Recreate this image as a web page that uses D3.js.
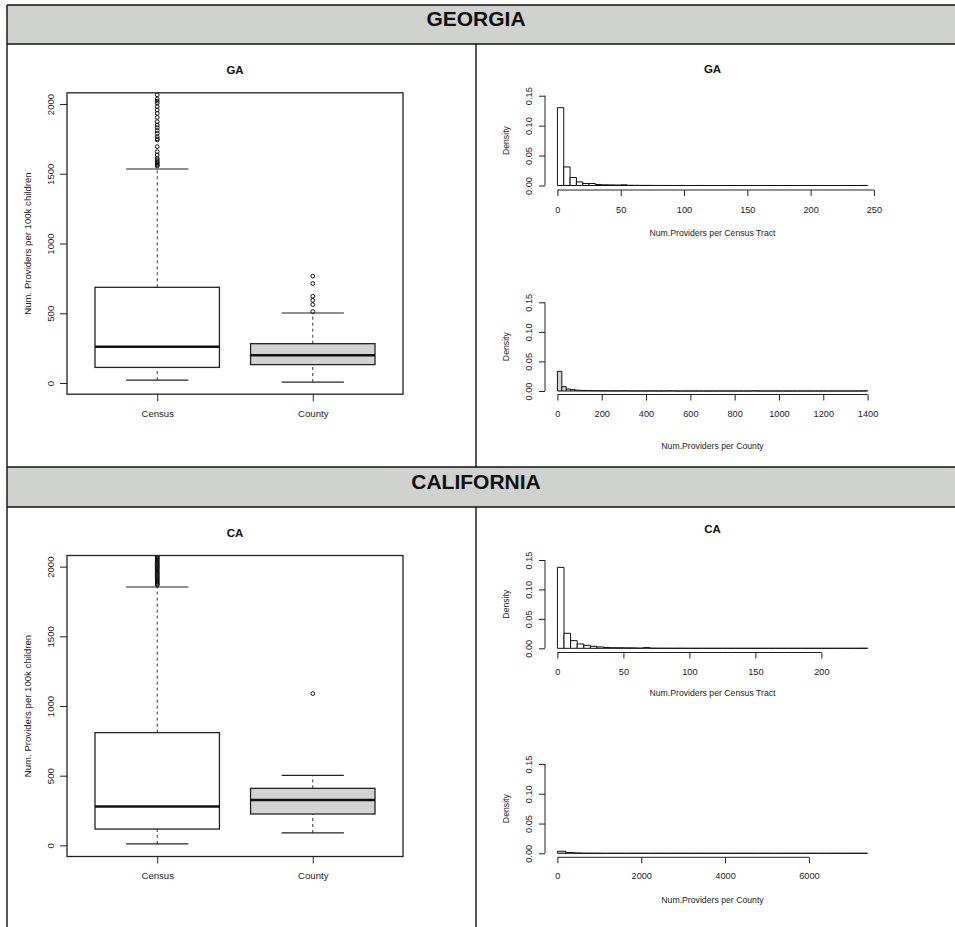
<!DOCTYPE html>
<html>
<head>
<meta charset="utf-8">
<script src="https://cdn.jsdelivr.net/npm/d3@7"></script>
<style>
  body { margin: 0; background: #fff; }
  svg { display: block; font-family: "Liberation Sans", Arial, sans-serif; }
</style>
</head>
<body>
<script>
const width = 955;
const height = 927;

// ---- data ----
const stateNames = ["GEORGIA", "CALIFORNIA"];
const stateCodes = ["GA", "CA"];
const boxCategories = ["Census", "County"];
const boxTicks = [0, 500, 1000, 1500, 2000];

// [lower whisker, Q1, median, Q3, upper whisker]
const gaCensusStats = [21, 112, 260, 686, 1534];
const gaCountyStats = [7, 132, 199, 282, 502];
const caCensusStats = [10, 117, 278, 809, 1854];
const caCountyStats = [89, 225, 325, 409, 502];

const gaCensusOutliers = [1555, 1562, 1569, 1578, 1586, 1598, 1610, 1634, 1658, 1694, 1742, 1750, 1766, 1789, 1809, 1830, 1849, 1873, 1904, 1933, 1957, 1981, 2005, 2020, 2036, 2065];
const gaCountyOutliers = [512, 562, 593, 622, 713, 766];
const caCensusOutliers = [1868, 1875, 1882, 1890, 1897, 1905, 1912, 1920, 1928, 1936, 1945, 1953, 1960, 1968, 1977, 1985, 1992, 2000, 2008, 2015, 2023, 2031, 2040, 2048, 2056, 2064, 2072, 2080, 2095, 2120];
const caCountyOutliers = [1089];

const densityTicks = [0, 0.05, 0.1, 0.15];

// densities per bin, bins start at 0
const gaTractBinWidth = 5;
const gaTractDensity = [
  0.130, 0.031, 0.0134, 0.006, 0.0033, 0.0033, 0.0017, 0.0012, 0.001, 0.0008, 0.0012,
  0.0004, 0.0003, 0.0002, 0.0002, 0.0001, 0.0001, 0.0001, 0, 0.0001, 0,
  0, 0.0001, 0, 0, 0, 0, 0, 0, 0, 0,
  0, 0, 0, 0, 0, 0, 0, 0, 0, 0,
  0, 0, 0, 0, 0, 0, 0, 0.0001
];
const gaTractTicks = [0, 50, 100, 150, 200, 250];

const gaCountyBinWidth = 20;
const gaCountyDensity = [
  0.0333, 0.0073, 0.0034, 0.0022, 0.0015, 0.001, 0.0008, 0.0006, 0.0005, 0.0004,
  0.0003, 0.0002, 0.0002, 0.0001, 0.0002, 0.0003, 0.0001, 0.0001, 0.0001, 0.0001,
  0.0001, 0.0002, 0.0001, 0, 0.0001, 0.0003, 0.0002, 0, 0, 0,
  0, 0, 0, 0, 0, 0, 0, 0, 0, 0,
  0, 0, 0, 0, 0.0003, 0, 0, 0, 0, 0,
  0, 0, 0, 0, 0, 0, 0, 0, 0, 0,
  0, 0, 0, 0, 0, 0, 0, 0, 0, 0.0003
];
const gaCountyTicks = [0, 200, 400, 600, 800, 1000, 1200, 1400];

const caTractBinWidth = 5;
const caTractDensity = [
  0.1375, 0.0255, 0.013, 0.0074, 0.005, 0.0034, 0.0023, 0.0013, 0.001, 0.0009,
  0.0008, 0.0007, 0.0003, 0.0012, 0.0002, 0.0001, 0.0001, 0, 0.0001, 0,
  0, 0, 0, 0, 0, 0, 0, 0, 0, 0,
  0, 0, 0, 0, 0, 0, 0, 0, 0, 0,
  0, 0, 0, 0, 0, 0, 0.0001
];
const caTractTicks = [0, 50, 100, 150, 200];

const caCountyBinWidth = 200;
const caCountyDensity = [
  0.0034, 0.0012, 0.0006, 0.0001, 0.0001, 0, 0, 0, 0, 0,
  0, 0, 0, 0, 0, 0, 0, 0, 0, 0,
  0, 0, 0, 0, 0, 0, 0, 0, 0, 0,
  0, 0, 0, 0, 0, 0, 0.00002
];
const caCountyTicks = [0, 2000, 4000, 6000];

// ---- page ----
let svg = d3
  .select("body")
  .append("svg")
  .attr("width", width)
  .attr("height", height);

svg.append("rect").attr("width", width).attr("height", height).attr("fill", "#fff");

let frame = svg.append("g").attr("id", "frame");

// grey state header bands
let bands = [
  { top: 5, bottom: 44, baseline: 26 },
  { top: 467, bottom: 507, baseline: 489.3 },
];

bands.forEach((b, i) => {
  frame
    .append("rect")
    .attr("x", 7)
    .attr("y", b.top)
    .attr("width", width)
    .attr("height", b.bottom - b.top)
    .attr("fill", "#d0d2d0");
  frame
    .append("text")
    .attr("x", 476)
    .attr("y", b.baseline)
    .attr("text-anchor", "middle")
    .style("font-size", "21px")
    .style("font-weight", "bold")
    .attr("fill", "#111")
    .text(stateNames[i]);
});

let frameLines = [
  [7, 5, width, 5],
  [7, 44, width, 44],
  [7, 467, width, 467],
  [7, 507, width, 507],
  [7, 5, 7, height],
  [476, 44, 476, 467],
  [476, 507, 476, height],
];

frame
  .selectAll("line")
  .data(frameLines)
  .join("line")
  .attr("x1", (d) => d[0])
  .attr("y1", (d) => d[1])
  .attr("x2", (d) => d[2])
  .attr("y2", (d) => d[3])
  .attr("stroke", "#111")
  .attr("stroke-width", 1.4);

// ---- box plots ----
function drawBoxplot(p, title, series) {
  let g = svg.append("g");
  let clipId = `clip-${title}`;

  svg
    .append("clipPath")
    .attr("id", clipId)
    .append("rect")
    .attr("x", p.left)
    .attr("y", p.top)
    .attr("width", p.right - p.left)
    .attr("height", p.bottom - p.top);

  let xScale = d3.scaleLinear().domain([0.42, 2.58]).range([p.left, p.right]);
  let yScale = d3.scaleLinear().domain([-80, 2080]).range([p.bottom, p.top]);

  let marks = g.append("g").attr("clip-path", `url(#${clipId})`);

  series.forEach((s, i) => {
    let cx = xScale(i + 1);
    let half = xScale(i + 1.4) - cx;
    let [lo, q1, med, q3, hi] = s.stats;

    // dashed whiskers
    [[lo, q1], [q3, hi]].forEach(([a, b]) => {
      marks
        .append("line")
        .attr("x1", cx)
        .attr("x2", cx)
        .attr("y1", yScale(a))
        .attr("y2", yScale(b))
        .attr("stroke", "#333")
        .attr("stroke-dasharray", "3,3");
    });

    // staples
    [lo, hi].forEach((v) => {
      marks
        .append("line")
        .attr("x1", cx - half / 2)
        .attr("x2", cx + half / 2)
        .attr("y1", yScale(v))
        .attr("y2", yScale(v))
        .attr("stroke", "#222")
        .attr("stroke-width", 1.2);
    });

    marks
      .append("rect")
      .attr("x", cx - half)
      .attr("y", yScale(q3))
      .attr("width", half * 2)
      .attr("height", yScale(q1) - yScale(q3))
      .attr("fill", s.fill)
      .attr("stroke", "#222")
      .attr("stroke-width", 1.3);

    marks
      .append("line")
      .attr("x1", cx - half)
      .attr("x2", cx + half)
      .attr("y1", yScale(med))
      .attr("y2", yScale(med))
      .attr("stroke", "#111")
      .attr("stroke-width", 2.5);

    marks
      .selectAll(null)
      .data(s.outliers)
      .join("circle")
      .attr("cx", cx)
      .attr("cy", (d) => yScale(d))
      .attr("r", 1.9)
      .attr("fill", "none")
      .attr("stroke", "#111")
      .attr("stroke-width", 1);
  });

  // plot frame
  g.append("rect")
    .attr("x", p.left)
    .attr("y", p.top)
    .attr("width", p.right - p.left)
    .attr("height", p.bottom - p.top)
    .attr("fill", "none")
    .attr("stroke", "#222")
    .attr("stroke-width", 1.3);

  // left axis
  let leftAxis = d3.axisLeft(yScale).tickValues(boxTicks).tickSize(7).tickFormat(d3.format("d"));
  g.append("g")
    .attr("transform", `translate(${p.left}, 0)`)
    .call(leftAxis)
    .call((a) => a.select(".domain").remove())
    .call((a) =>
      a
        .selectAll("text")
        .attr("x", 0)
        .attr("dy", 0)
        .attr("text-anchor", "middle")
        .attr("transform", "translate(-13.5, 0) rotate(-90)")
        .style("font-size", "9.6px")
        .style("font-family", "Liberation Sans, Arial, sans-serif")
        .attr("fill", "#222")
    )
    .call((a) => a.selectAll("line").attr("stroke", "#222"));

  // bottom axis
  let bottomAxis = d3
    .axisBottom(xScale)
    .tickValues([1, 2])
    .tickSize(7)
    .tickFormat((d) => boxCategories[d - 1]);
  g.append("g")
    .attr("transform", `translate(0, ${p.bottom})`)
    .call(bottomAxis)
    .call((a) => a.select(".domain").remove())
    .call((a) =>
      a
        .selectAll("text")
        .attr("y", p.catBase - p.bottom)
        .attr("dy", 0)
        .style("font-size", "9.6px")
        .style("font-family", "Liberation Sans, Arial, sans-serif")
        .attr("fill", "#222")
    )
    .call((a) => a.selectAll("line").attr("stroke", "#222"));

  g.append("text")
    .attr("x", (p.left + p.right) / 2)
    .attr("y", p.titleBase)
    .attr("text-anchor", "middle")
    .style("font-size", "11.5px")
    .style("font-weight", "bold")
    .attr("fill", "#111")
    .text(title);

  g.append("text")
    .attr("text-anchor", "middle")
    .attr("transform", `translate(30.5, ${yScale(1000)}) rotate(-90)`)
    .style("font-size", "9.6px")
    .attr("fill", "#222")
    .text("Num. Providers per 100k children");
}

drawBoxplot(
  { left: 67, right: 403, top: 92.8, bottom: 394.2, titleBase: 74, catBase: 416.7 },
  stateCodes[0],
  [
    { stats: gaCensusStats, outliers: gaCensusOutliers, fill: "#fff" },
    { stats: gaCountyStats, outliers: gaCountyOutliers, fill: "#d3d3d3" },
  ]
);

drawBoxplot(
  { left: 67, right: 403, top: 555.5, bottom: 856.5, titleBase: 536.7, catBase: 879.3 },
  stateCodes[1],
  [
    { stats: caCensusStats, outliers: caCensusOutliers, fill: "#fff" },
    { stats: caCountyStats, outliers: caCountyOutliers, fill: "#d3d3d3" },
  ]
);

// ---- histograms ----
function drawHistogram(p, densities, binWidth, ticks, xTitle, fill, title) {
  let g = svg.append("g");
  let hi = densities.length * binWidth;
  let pad = 0.04 * hi;

  let xScale = d3.scaleLinear().domain([-pad, hi + pad]).range([545, 880]);
  let yScale = d3.scaleLinear().domain([0, 0.15]).range([p.y0, p.y15]);

  // bars as closed paths so empty bins still show on the baseline
  g.selectAll("path.bar")
    .data(densities)
    .join("path")
    .attr("class", "bar")
    .attr("d", (d, i) => {
      let x0 = xScale(i * binWidth);
      let x1 = xScale((i + 1) * binWidth);
      let y0 = yScale(0);
      let y1 = yScale(d);
      return `M${x0},${y0}V${y1}H${x1}V${y0}Z`;
    })
    .attr("fill", fill)
    .attr("stroke", "#111")
    .attr("stroke-width", 1);

  let bottomAxis = d3.axisBottom(xScale).tickValues(ticks).tickSize(6).tickFormat(d3.format("d"));
  g.append("g")
    .attr("transform", `translate(0, ${p.axisY})`)
    .call(bottomAxis)
    .call((a) => a.select(".domain").remove())
    .call((a) =>
      a
        .selectAll("text")
        .attr("y", p.tickBase - p.axisY)
        .attr("dy", 0)
        .style("font-size", "9.2px")
        .style("font-family", "Liberation Sans, Arial, sans-serif")
        .attr("fill", "#222")
    )
    .call((a) => a.selectAll("line").attr("stroke", "#222"));

  g.append("line")
    .attr("x1", xScale(ticks[0]))
    .attr("x2", xScale(ticks[ticks.length - 1]))
    .attr("y1", p.axisY)
    .attr("y2", p.axisY)
    .attr("stroke", "#222");

  let leftAxis = d3.axisLeft(yScale).tickValues(densityTicks).tickSize(6).tickFormat(d3.format(".2f"));
  g.append("g")
    .attr("transform", "translate(545, 0)")
    .call(leftAxis)
    .call((a) => a.select(".domain").remove())
    .call((a) =>
      a
        .selectAll("text")
        .attr("x", 0)
        .attr("dy", 0)
        .attr("text-anchor", "middle")
        .attr("transform", "translate(-13.5, 0) rotate(-90)")
        .style("font-size", "9.2px")
        .style("font-family", "Liberation Sans, Arial, sans-serif")
        .attr("fill", "#222")
    )
    .call((a) => a.selectAll("line").attr("stroke", "#222"));

  g.append("line")
    .attr("x1", 545)
    .attr("x2", 545)
    .attr("y1", yScale(0))
    .attr("y2", yScale(0.15))
    .attr("stroke", "#222");

  g.append("text")
    .attr("text-anchor", "middle")
    .attr("transform", `translate(508.5, ${yScale(0.075)}) rotate(-90)`)
    .style("font-size", "8.7px")
    .attr("fill", "#222")
    .text("Density");

  g.append("text")
    .attr("x", 712.5)
    .attr("y", p.xlabBase)
    .attr("text-anchor", "middle")
    .style("font-size", "8.7px")
    .attr("fill", "#222")
    .text(xTitle);

  if (title) {
    g.append("text")
      .attr("x", 712.5)
      .attr("y", p.titleBase)
      .attr("text-anchor", "middle")
      .style("font-size", "11.5px")
      .style("font-weight", "bold")
      .attr("fill", "#111")
      .text(title);
  }
}

drawHistogram(
  { y0: 185.5, y15: 95.7, axisY: 190, tickBase: 212.8, xlabBase: 236, titleBase: 73.3 },
  gaTractDensity, gaTractBinWidth, gaTractTicks,
  "Num.Providers per Census Tract", "#fff", stateCodes[0]
);

drawHistogram(
  { y0: 391, y15: 302.3, axisY: 394.5, tickBase: 416.7, xlabBase: 449.3 },
  gaCountyDensity, gaCountyBinWidth, gaCountyTicks,
  "Num.Providers per County", "#d3d3d3", null
);

drawHistogram(
  { y0: 648.3, y15: 560, axisY: 652.5, tickBase: 675, xlabBase: 696, titleBase: 533.3 },
  caTractDensity, caTractBinWidth, caTractTicks,
  "Num.Providers per Census Tract", "#fff", stateCodes[1]
);

drawHistogram(
  { y0: 853.3, y15: 764, axisY: 857.3, tickBase: 879.3, xlabBase: 903 },
  caCountyDensity, caCountyBinWidth, caCountyTicks,
  "Num.Providers per County", "#d3d3d3", null
);
</script>
</body>
</html>
